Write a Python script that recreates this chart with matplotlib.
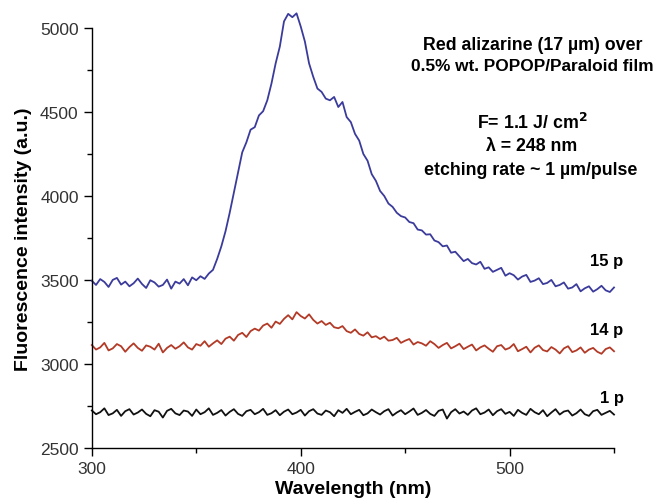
import numpy as np
import matplotlib
matplotlib.use("Agg")
import matplotlib.pyplot as plt
from matplotlib.ticker import MultipleLocator

# wavelength grid (nm), one reading every 2 nm
wavelength = np.arange(300, 551, 2)

# 15 pulses
int_15p = [
    3495, 3470, 3505, 3488, 3458, 3500, 3512, 3472, 3490, 3462,
    3480, 3508, 3476, 3452, 3498, 3485, 3460, 3470, 3502, 3448,
    3490, 3478, 3505, 3468, 3515, 3498, 3522, 3506, 3538, 3560,
    3625, 3700, 3790, 3900, 4020, 4140, 4260, 4320, 4395, 4410,
    4480, 4505, 4570, 4670, 4790, 4890, 5040, 5085, 5065, 5088,
    5010, 4920, 4790, 4710, 4640, 4620, 4580, 4570, 4590, 4530,
    4560, 4470, 4440, 4370, 4330, 4250, 4210, 4130, 4090, 4030,
    4000, 3955, 3935, 3900, 3880, 3872, 3845, 3838, 3800, 3795,
    3770, 3772, 3735, 3725, 3700, 3705, 3662, 3668, 3640, 3612,
    3625, 3600, 3592, 3608, 3566, 3575, 3548, 3560, 3572, 3525,
    3540, 3528, 3502, 3520, 3530, 3488, 3496, 3510, 3475, 3482,
    3500, 3462, 3470, 3485, 3448, 3455, 3475, 3432, 3450, 3462,
    3430, 3445, 3465, 3438, 3428, 3455,
]

# 14 pulses
int_14p = [
    3112, 3085, 3098, 3125, 3080, 3092, 3118, 3105, 3072, 3100,
    3122, 3095, 3078, 3110, 3102, 3085, 3120, 3068, 3095, 3112,
    3090, 3105, 3128, 3098, 3085, 3118, 3108, 3135, 3102, 3122,
    3140, 3118, 3150, 3162, 3138, 3172, 3185, 3160, 3195, 3210,
    3198, 3228, 3240, 3215, 3252, 3238, 3268, 3290, 3265, 3308,
    3285, 3270, 3295, 3262, 3240, 3255, 3232, 3245, 3218, 3212,
    3225, 3195, 3185, 3205, 3178, 3168, 3188, 3158, 3165, 3148,
    3162, 3138, 3142, 3155, 3125, 3138, 3148, 3115, 3130, 3122,
    3108, 3135, 3118, 3095, 3112, 3125, 3092, 3105, 3120, 3088,
    3102, 3115, 3080, 3098, 3110, 3090, 3072, 3105, 3112, 3085,
    3095, 3118, 3075, 3088, 3102, 3068, 3096, 3110, 3082, 3074,
    3100, 3085, 3062, 3092, 3105, 3070, 3080, 3098, 3066, 3085,
    3095, 3072, 3060, 3088, 3098, 3075,
]

# 1 pulse
int_1p = [
    2722, 2700, 2712, 2735, 2695, 2705, 2726, 2690, 2718, 2730,
    2698, 2710, 2728, 2702, 2688, 2724, 2715, 2680, 2720, 2732,
    2705, 2695, 2722, 2716, 2690, 2728, 2700, 2712, 2735, 2696,
    2708, 2725, 2692, 2714, 2730, 2702, 2690, 2718, 2726, 2700,
    2712, 2732, 2696, 2706, 2724, 2694, 2715, 2728, 2700, 2710,
    2726, 2692, 2718, 2730, 2704, 2696, 2722, 2712, 2688, 2724,
    2708, 2732, 2700, 2714, 2726, 2694, 2705, 2728, 2712, 2698,
    2718, 2730, 2692, 2710, 2724, 2700, 2716, 2734, 2696, 2708,
    2725, 2702, 2690, 2720, 2728, 2674, 2712, 2730, 2704, 2716,
    2696, 2722, 2735, 2700, 2710, 2728, 2694, 2718, 2730, 2702,
    2714, 2690, 2726, 2708, 2696, 2732, 2712, 2700, 2724, 2688,
    2710, 2730, 2698, 2716, 2722, 2692, 2706, 2728, 2700, 2690,
    2718, 2726, 2696, 2708, 2720, 2698,
]

labels = ["15 p", "14 p", "1 p"]
curves = [int_15p, int_14p, int_1p]
colors = ["#3b3b9c", "#b23a26", "#111111"]
label_rise_pt = [19.5, 16, 12]  # how far each curve label sits above the line end

plt.rcParams["font.family"] = ["Liberation Sans", "DejaVu Sans"]

fig = plt.figure(figsize=(6.56, 5.02), dpi=100)
ax = fig.add_axes([0.140, 0.106, 0.796, 0.836])

for label, vals, color, rise in zip(labels, curves, colors, label_rise_pt):
    ax.plot(wavelength, vals, color=color, linewidth=1.3, clip_on=False)
    ax.annotate(label, xy=(wavelength[-1], vals[-1]), xytext=(7, rise),
                textcoords="offset points", ha="right", va="center",
                fontsize=12, fontweight="bold", annotation_clip=False)

ax.set_xlim(300, 550)
ax.set_ylim(2500, 5000)
ax.xaxis.set_major_locator(MultipleLocator(100))
ax.xaxis.set_minor_locator(MultipleLocator(50))
ax.yaxis.set_major_locator(MultipleLocator(500))
ax.yaxis.set_minor_locator(MultipleLocator(250))

for side in ("top", "right"):
    ax.spines[side].set_visible(False)
for side in ("left", "bottom"):
    ax.spines[side].set_linewidth(1.0)

ax.tick_params(which="major", direction="out", length=6, width=1.0,
               labelsize=12.5, labelcolor="#333333")
ax.tick_params(which="minor", direction="out", length=3.5, width=1.0)

ax.set_xlabel("Wavelength (nm)", fontsize=14, fontweight="bold", labelpad=3)
ax.set_ylabel("Fluorescence intensity (a.u.)", fontsize=14, fontweight="bold", labelpad=6)

notes = [
    (0.812, 0.910, "Red alizarine (17 \u00b5m) over", 12.8),
    (0.812, 0.868, "0.5% wt. POPOP/Paraloid film", 12.4),
    (0.811, 0.755, "F= 1.1 J/ cm$^{\\mathbf{2}}$", 12.8),
    (0.811, 0.709, "\u03bb = 248 nm", 12.8),
    (0.809, 0.661, "etching rate ~ 1 \u00b5m/pulse", 12.8),
]
for x, y, txt, size in notes:
    fig.text(x, y, txt, ha="center", va="center", fontsize=size, fontweight="bold")

fig.savefig("out.png", dpi=100)
